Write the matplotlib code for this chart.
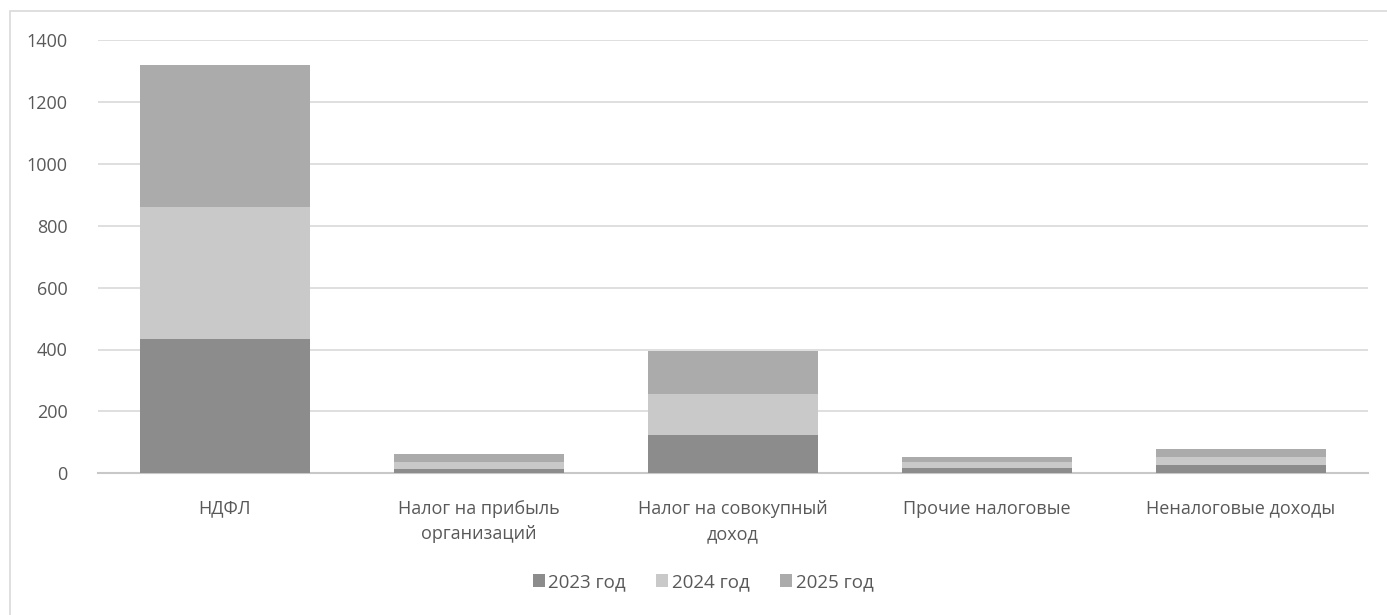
import matplotlib
matplotlib.use("Agg")
import matplotlib.pyplot as plt
from matplotlib.patches import Rectangle
import numpy as np

categories = ["НДФЛ", "Налог на прибыль\nорганизаций", "Налог на совокупный\nдоход", "Прочие налоговые", "Неналоговые доходы"]
series_names = ["2023 год", "2024 год", "2025 год"]
v2023 = [434, 15, 125, 16, 26]
v2024 = [426, 23, 132, 19, 28]
v2025 = [459, 23, 139, 18, 23]
yticks = [0, 200, 400, 600, 800, 1000, 1200, 1400]
colors = ["#8c8c8c", "#c9c9c9", "#ababab"]

plt.rcParams['font.family'] = ['Open Sans', 'DejaVu Sans']
W, H = 1387, 615
fig = plt.figure(figsize=(W/100, H/100), dpi=100)
ax = fig.add_axes([98/W, 1-473.3/H, 1270/W, 433.3/H])

x = np.arange(len(categories))
bottom = np.zeros(len(categories))
for vals, c, name in zip([v2023, v2024, v2025], colors, series_names):
    ax.bar(x, vals, bottom=bottom, width=0.67, color=c, linewidth=0, label=name, zorder=3)
    bottom += np.array(vals)

ax.set_xlim(-0.5, len(categories)-0.5)
ax.set_ylim(0, 1400)
ax.set_yticks(yticks)
ax.set_yticklabels([str(t) for t in yticks], fontsize=13, color="#595959")
ax.yaxis.grid(True, color="#d9d9d9", linewidth=1.2, zorder=0)
ax.set_axisbelow(True)
for s in ["top", "right", "left"]:
    ax.spines[s].set_visible(False)
ax.spines["bottom"].set_color("#c8c8c8")
ax.spines["bottom"].set_linewidth(1.5)
ax.tick_params(axis="y", length=0, pad=22)
ax.tick_params(axis="x", length=0, pad=19)
ax.set_xticks(x)
ax.set_xticklabels(categories, fontsize=13, color="#595959", linespacing=1.55)

leg = fig.legend(loc="center", bbox_to_anchor=(703/W, 1-582/H), ncol=3, frameon=False,
                 fontsize=13.5, handlelength=0.65, handleheight=0.65, handletextpad=0.2,
                 columnspacing=1.6, labelcolor="#595959")

fig.patches.append(Rectangle((10/W, -0.1), 1.2, 1-11/H+0.1, transform=fig.transFigure,
                             fill=False, edgecolor="#d9d9d9", linewidth=1.2))

fig.savefig("out.png", dpi=100, facecolor="white")
